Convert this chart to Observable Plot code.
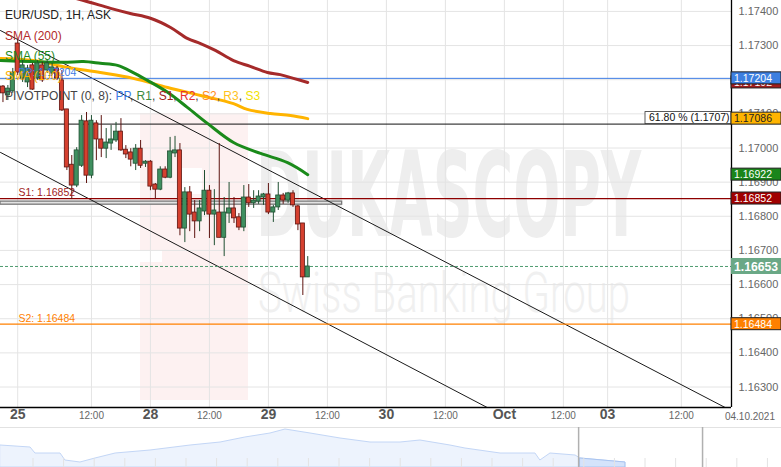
<!DOCTYPE html>
<html><head><meta charset="utf-8">
<script src="https://cdn.jsdelivr.net/npm/d3@7"></script>
<script src="https://cdn.jsdelivr.net/npm/@observablehq/plot@0.6"></script>
<style>
body{margin:0;background:#fff;}
#chart{width:781px;height:467px;overflow:hidden;font-family:"Liberation Sans",Arial,sans-serif;}
#chart svg{display:block;}
</style></head><body><div id="chart"></div>
<script>
// ---- candles (hour index relative to 28th 00:00) ----
const hourIdx = [-30,-29,-28,-27,-26,-25,-24,-23,-22,-21,-20,-19,-18,-17,-16,-15,-14,-13,-12,-11,-10,-9,-8,-7,-6,-5,-4,-3,-2,-1,0,1,2,3,4,5,6,7,8,9,10,11,12,13,14,15,16,17,18,19,20,21,22,23,24,25,26,27,28,29,30,31,32];
const opens = [1.17180,1.17154,1.17166,1.17306,1.17204,1.17192,1.17242,1.17204,1.17242,1.17227,1.17218,1.17233,1.17198,1.17113,1.16951,1.16890,1.16948,1.17078,1.16919,1.17072,1.17025,1.16998,1.17013,1.17022,1.17048,1.16995,1.16987,1.16954,1.16998,1.16954,1.16960,1.16893,1.16878,1.16937,1.16913,1.16984,1.16993,1.16764,1.16870,1.16811,1.16785,1.16814,1.16875,1.16805,1.16811,1.16737,1.16808,1.16823,1.16797,1.16767,1.16855,1.16838,1.16843,1.16855,1.16864,1.16811,1.16826,1.16861,1.16846,1.16867,1.16829,1.16779,1.16621];
const highs = [1.17183,1.17183,1.17233,1.17315,1.17256,1.17242,1.17248,1.17256,1.17251,1.17256,1.17248,1.17239,1.17227,1.17113,1.16978,1.17001,1.17095,1.17104,1.17095,1.17080,1.17095,1.17057,1.17066,1.17075,1.17086,1.17007,1.16998,1.17010,1.17022,1.16963,1.16963,1.16896,1.16945,1.16945,1.17031,1.17034,1.17013,1.16884,1.16887,1.16846,1.16846,1.16934,1.16890,1.16878,1.17013,1.16855,1.16899,1.16855,1.16808,1.16890,1.16893,1.16875,1.16875,1.16867,1.16896,1.16832,1.16899,1.16867,1.16870,1.16875,1.16832,1.16779,1.16682];
const lows = [1.17133,1.17139,1.17160,1.17212,1.17192,1.17177,1.17169,1.17198,1.17192,1.17218,1.17212,1.17198,1.17107,1.16934,1.16849,1.16884,1.16943,1.16896,1.16910,1.16963,1.16972,1.16969,1.16993,1.17016,1.16990,1.16969,1.16945,1.16934,1.16940,1.16943,1.16875,1.16849,1.16875,1.16910,1.16910,1.16972,1.16743,1.16723,1.16755,1.16735,1.16755,1.16802,1.16735,1.16714,1.16737,1.16682,1.16779,1.16779,1.16758,1.16755,1.16826,1.16823,1.16835,1.16832,1.16805,1.16782,1.16817,1.16835,1.16838,1.16826,1.16758,1.16568,1.16621];
const closes = [1.17160,1.17174,1.17221,1.17221,1.17242,1.17233,1.17171,1.17248,1.17198,1.17248,1.17236,1.17204,1.17110,1.16943,1.16890,1.16993,1.17080,1.16919,1.17080,1.17025,1.16998,1.17016,1.17025,1.17048,1.16993,1.16981,1.16966,1.16998,1.16948,1.16960,1.16887,1.16878,1.16937,1.16913,1.16990,1.16993,1.16764,1.16870,1.16805,1.16785,1.16823,1.16875,1.16805,1.16817,1.16737,1.16811,1.16823,1.16794,1.16767,1.16855,1.16838,1.16846,1.16858,1.16864,1.16811,1.16826,1.16861,1.16846,1.16867,1.16832,1.16776,1.16621,1.16653];

// ---- moving averages ----
const sma200H = [-30.5,-13.6,-8.1,-4.1,0,4.1,7.5,10.2,13.2,16.9,20.3,23.8,26.4,29.1,32];
const sma200P = [1.17497,1.17432,1.17409,1.17394,1.17380,1.17353,1.17321,1.17306,1.17286,1.17256,1.17239,1.17221,1.17215,1.17204,1.17192];
const sma55H = [-30.5,-24.4,-17.7,-13.6,-10.2,-6.7,-3.5,-0.6,3.5,7.5,11.6,16.9,22.4,27.9,32];
const sma55P = [1.17256,1.17253,1.17251,1.17253,1.17248,1.17242,1.17221,1.17198,1.17163,1.17119,1.17072,1.17016,1.16984,1.16957,1.16922];
const sma100H = [-30.5,-23.8,-16.9,-10.2,-3.5,3.5,10.2,16.9,19.7,24.4,28.5,32];
const sma100P = [1.17262,1.17256,1.17236,1.17221,1.17204,1.17177,1.17154,1.17130,1.17113,1.17101,1.17095,1.17086];

// ---- channel lines ----
const channelName = ["upper","upper","lower","lower"];
const channelH = [-30.5,116.9,-30.5,68.5];
const channelP = [1.17344,1.16240,1.16987,1.16240];

// ---- levels ----
const levelPP = 1.17204, levelS1 = 1.16852, levelS2 = 1.16484, levelFib = 1.1707, lastPrice = 1.16653;
const sma200Last = 1.17192, sma100Last = 1.17086, sma55Last = 1.16922;
const rectH = [-30.5, 39], rectP = [1.16834, 1.16843];

// ---- axes ----
const yTicks = [1.163,1.164,1.165,1.166,1.167,1.168,1.169,1.170,1.171,1.172,1.173,1.174];
const xTickHours = [-27,-12,0,12,24,36,48,60,72,84,93,108];
const xTickLabels = ["25","12:00","28","12:00","29","12:00","30","12:00","Oct","12:00","03","12:00"];
const xDomain = [-30.5, 118.2], yDomain = [1.1624, 1.17432];
const labelH = -26.85;

// ---- navigator ----
const navDay = [-0.06,0.92,1.08,1.9,2.06,2.55,3.04,3.7,4.84,6.15,7.13,7.94,8.76,9.25,10.07,11.05,12.03,13.01,13.66,14.64,15.13,16.28,17.42,17.58,17.91,18.73,18.89,20.36];
const navVal = [22,20,14,14,7,5,9,14,17,22,25,30,34,38,34,29,25,25,27,22,19,14,14,7,14,12,9,5];
const navSel = [18.83, 22.88];

const candles = hourIdx.map((h,i)=>({h, o:opens[i], hi:highs[i], lo:lows[i], c:closes[i]}));
const toPts = (H,P)=>H.map((h,i)=>({h,p:P[i]}));
const channel = channelH.map((h,i)=>({h,p:channelP[i],line:channelName[i]}));
const xTicks = xTickHours.map((h,i)=>({h,label:xTickLabels[i],day:!xTickLabels[i].includes(":")}));

const up = d => d.c >= d.o;
const plot = Plot.plot({
  width: 781, height: 427,
  marginLeft: 0, marginRight: 50, marginTop: 0, marginBottom: 20,
  x: {domain: xDomain, axis: null},
  y: {domain: yDomain, axis: null},
  style: {background: "white", fontFamily: "'Liberation Sans', Arial, sans-serif", overflow: "visible"},
  marks: [
    Plot.ruleY(yTicks, {stroke: "#e4e4e4"}),
    Plot.ruleX(xTickHours, {stroke: "#e4e4e4"}),
    Plot.rect([0], {x1: rectH[0], x2: rectH[1], y1: rectP[0], y2: rectP[1], fill: "#e2e2e2", stroke: "#7a7a7a", strokeWidth: 1.3}),
    Plot.line(channel, {x: "h", y: "p", z: "line", stroke: "#1a1a1a", strokeWidth: 1, clip: true}),
    Plot.ruleY([levelPP], {stroke: "#3b7be4", strokeWidth: 1}),
    Plot.ruleY([levelFib], {stroke: "#111", strokeWidth: 1}),
    Plot.ruleY([levelS1], {stroke: "#8e0000", strokeWidth: 1.2}),
    Plot.ruleY([levelS2], {stroke: "#ff8000", strokeWidth: 1.2}),
    Plot.ruleY([lastPrice], {stroke: "#4f9c70", strokeWidth: 1, strokeDasharray: "3,2"}),
    Plot.line(toPts(sma200H, sma200P), {x: "h", y: "p", stroke: "#a52a2a", strokeWidth: 3, curve: "catmull-rom", clip: true}),
    Plot.line(toPts(sma100H, sma100P), {x: "h", y: "p", stroke: "#ffb400", strokeWidth: 3, curve: "catmull-rom", clip: true}),
    Plot.line(toPts(sma55H, sma55P), {x: "h", y: "p", stroke: "#1a8a1a", strokeWidth: 3, curve: "catmull-rom", clip: true}),
    Plot.ruleX(candles, {x: "h", y1: "lo", y2: "hi", stroke: d => up(d) ? "#1f4f31" : "#5e1410", strokeWidth: 1}),
    Plot.rect(candles, {x1: d => d.h - 0.42, x2: d => d.h + 0.42, y1: "o", y2: "c",
      fill: d => up(d) ? "#3f8f5f" : "#d5402f", stroke: d => up(d) ? "#1f4f31" : "#5e1410", strokeWidth: 0.8}),
    Plot.text([levelS1], {x: labelH, y: d => d, text: d => "S1: " + d.toFixed(5), textAnchor: "start", dy: -6, fill: "#a01a1a", fontSize: 10.5}),
    Plot.text([levelS2], {x: labelH, y: d => d, text: d => "S2: " + d.toFixed(5), textAnchor: "start", dy: -6, fill: "#ff7f00", fontSize: 10.5}),
    Plot.text([levelPP], {x: labelH, y: d => d, text: d => "PP: " + d.toFixed(5), textAnchor: "start", dy: -6, fill: "#3b7be4", fontSize: 10.5}),
    Plot.ruleX([xDomain[1]], {stroke: "#000", strokeWidth: 1.3}),
    Plot.ruleY([yDomain[0]], {stroke: "#000", strokeWidth: 1.3}),
    Plot.text(yTicks, {x: xDomain[1], y: d => d, text: d => d.toFixed(5), textAnchor: "start", dx: 7, fill: "#666", fontSize: 11}),
    Plot.text(xTicks.filter(d => d.day), {x: "h", text: "label", frameAnchor: "bottom", dy: 11, fill: "#555", fontSize: 14, fontWeight: "bold", fontFamily: "'Liberation Sans Narrow', 'Liberation Sans', sans-serif"}),
    Plot.text(xTicks.filter(d => !d.day), {x: "h", text: "label", frameAnchor: "bottom", dy: 11, fill: "#666", fontSize: 10, fontFamily: "'Liberation Sans Narrow', 'Liberation Sans', sans-serif"})
  ]
});

const svg = d3.select(plot);
const ys = plot.scale("y");
// watermark behind everything
const wm = svg.insert("g", ":first-child").attr("text-anchor", "start");
wm.append("rect").attr("x", 140).attr("y", 113).attr("width", 108).attr("height", 287).attr("fill", "#fdf1f1");
wm.append("rect").attr("x", 178).attr("y", 168).attr("width", 24).attr("height", 26).attr("fill", "#fff");
wm.append("rect").attr("x", 140).attr("y", 250).attr("width", 22).attr("height", 12).attr("fill", "#fff");
wm.append("text").attr("x", 256).attr("y", 236).attr("font-size", 118).attr("font-weight", "bold")
  .attr("font-family", "'DejaVu Sans', sans-serif").attr("fill", "#eeeeee")
  .attr("textLength", 385).attr("lengthAdjust", "spacingAndGlyphs").text("DUKASCOPY");
wm.append("text").attr("x", 258).attr("y", 312).attr("font-size", 56).attr("font-weight", 300)
  .attr("font-family", "Roboto, sans-serif").attr("fill", "#f0f0f0")
  .attr("textLength", 372).attr("lengthAdjust", "spacingAndGlyphs").text("Swiss Banking Group");

// legend
const lg = svg.append("g").attr("font-size", 12).attr("text-anchor", "start").attr("font-family", "'Liberation Sans', Arial, sans-serif");
lg.append("text").attr("x", 5).attr("y", 19).attr("fill", "#222").text("EUR/USD, 1H, ASK");
lg.append("text").attr("x", 5).attr("y", 40).attr("fill", "#b22a2a").text("SMA (200)");
lg.append("text").attr("x", 5).attr("y", 60).attr("fill", "#1f8b1f").text("SMA (55)");
lg.append("text").attr("x", 5).attr("y", 80).attr("fill", "#ffb000").text("SMA (100)");
const pv = lg.append("text").attr("x", 5).attr("y", 100).attr("fill", "#444");
[["PIVOTPOINT (0, 8): ","#444"],["PP","#3b7be4"],[", ","#444"],["R1","#3c8a3c"],[", ","#444"],["S1","#a02020"],[", ","#444"],["R2","#e53030"],[", ","#444"],["S2","#ff8c1a"],[", ","#444"],["R3","#ffc21a"],[", ","#444"],["S3","#f2e200"]]
  .forEach(([t,c]) => pv.append("tspan").attr("fill", c).text(t));

// fib label
const fy = ys.apply(levelFib);
const fg = svg.append("g").attr("text-anchor", "start");
fg.append("rect").attr("x", 645).attr("y", fy - 12).attr("width", 86).attr("height", 12).attr("fill", "#fff").attr("stroke", "#333").attr("stroke-width", 0.8);
fg.append("text").attr("x", 649).attr("y", fy - 2.5).attr("font-size", 10.5).attr("fill", "#111").text("61.80 % (1.1707)");

// right axis boxes
const boxes = [
  {v: sma200Last, bg: "#a01c1c", fg: "#fff"},
  {v: levelPP, bg: "#3d7fe0", fg: "#fff"},
  {v: sma100Last, bg: "#ffb400", fg: "#222"},
  {v: sma55Last, bg: "#1a851a", fg: "#fff"},
  {v: levelS1, bg: "#a00000", fg: "#fff"},
  {v: lastPrice, bg: "#6aa886", fg: "#fff", big: true},
  {v: levelS2, bg: "#ff8000", fg: "#fff"}
];
const bx = svg.append("g").attr("text-anchor", "start");
boxes.forEach(b => {
  const y = ys.apply(b.v), h = b.big ? 16 : 12;
  bx.append("rect").attr("x", 731).attr("y", y - h/2).attr("width", 50).attr("height", h)
    .attr("fill", b.bg).attr("stroke", b.big ? "none" : "#222").attr("stroke-width", 1);
  bx.append("text").attr("x", b.big ? 734 : 734).attr("y", y + (b.big ? 5 : 4)).attr("fill", b.fg)
    .attr("font-size", b.big ? 13.5 : 11).attr("font-weight", b.big ? "bold" : "normal")
    .attr("textLength", b.big ? 44 : 38).attr("lengthAdjust", "spacingAndGlyphs").text(b.v.toFixed(5));
});
svg.append("text").attr("x", 775).attr("y", 420).attr("text-anchor", "end").attr("font-size", 10)
  .attr("fill", "#666").attr("font-family", "'Liberation Sans Narrow', 'Liberation Sans', sans-serif").text("04.10.2021");

// navigator
const nav = navDay.map((d,i)=>({d, v: navVal[i]}));
const navPlot = Plot.plot({
  width: 781, height: 40, margin: 0,
  x: {domain: [-0.062, 25.46], axis: null},
  y: {domain: [0, 40], axis: null},
  style: {background: "white"},
  marks: [
    Plot.ruleY([40], {stroke: "#e2e2e2"}),
    Plot.areaY(nav, {x: "d", y: "v", fill: "#edf3fd", stroke: "#c3d6f6", strokeWidth: 1}),
    Plot.areaY(nav.filter(p => p.d >= navSel[0]), {x: "d", y: "v", fill: "#d4e3fb", stroke: "#a9c4f0"}),
    Plot.ruleX(d3.range(1, 26), {y1: 0, y2: 9, stroke: "#e3e3e3"}),
    Plot.ruleX(navSel, {stroke: "#b0b0b0", strokeWidth: 1.5})
  ]
});
const c = document.getElementById("chart");
c.append(plot);
c.append(navPlot);
</script></body></html>
